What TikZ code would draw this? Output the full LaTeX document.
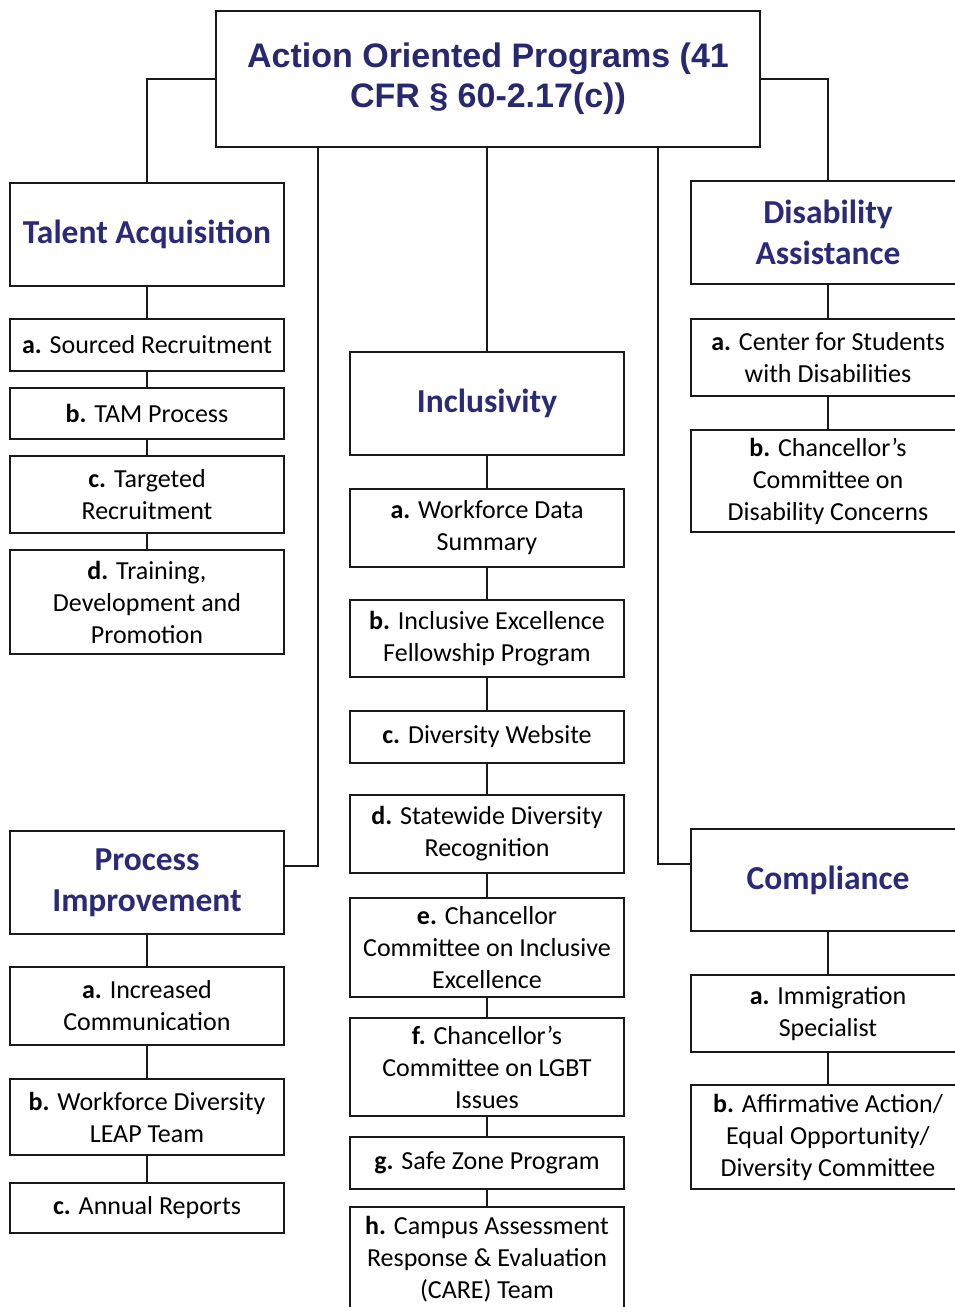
\documentclass[tikz,border=0pt]{standalone}
\usepackage{fontspec}
\setmainfont{Carlito}
\newfontfamily\titlefont{Liberation Sans}
\definecolor{hdr}{HTML}{2B2A78}
\definecolor{ttl}{HTML}{28286E}
\definecolor{ln}{HTML}{1A1A1A}
\tikzset{
  box/.style={draw=ln, line width=2pt, fill=white, minimum width=274pt, inner sep=0pt, align=center, text=black,
    font=\fontsize{26}{32}\selectfont},
  hbox/.style={box, text=hdr, font=\fontsize{33.5}{41}\selectfont\bfseries},
  conn/.style={draw=ln, line width=2pt},
}
\begin{document}
\begin{tikzpicture}[x=1pt,y=-1pt]
\clip (0,0) rectangle (955,1307);
\fill[white] (0,0) rectangle (955,1307);
% title
\node[box, minimum width=544pt, minimum height=136pt, text=ttl, font=\titlefont\fontsize{34}{40}\selectfont\bfseries] (top) at (488,79) {Action Oriented Programs (41\\CFR § 60-2.17(c))};
% talent acquisition
\node[hbox, minimum height=103pt] (ta) at (147,234.5) {Talent Acquisition};
\node[box, minimum height=52pt] (taa) at (147,345) {{\bfseries a.} Sourced Recruitment};
\node[box, minimum height=51pt] (tab) at (147,413.5) {{\bfseries b.} TAM Process};
\node[box, minimum height=77pt] (tac) at (147,494.5) {{\bfseries c.} Targeted\\Recruitment};
\node[box, minimum height=104pt] (tad) at (147,602) {{\bfseries d.} Training,\\Development and\\Promotion};
% process improvement
\node[hbox, minimum height=103pt] (pi) at (147,882.5) {Process\\Improvement};
\node[box, minimum height=78pt] (pia) at (147,1006) {{\bfseries a.} Increased\\Communication};
\node[box, minimum height=76pt] (pib) at (147,1117) {{\bfseries b.} Workforce Diversity\\LEAP Team};
\node[box, minimum height=50pt] (pic) at (147,1208) {{\bfseries c.} Annual Reports};
% inclusivity
\node[hbox, minimum height=103pt] (in) at (487,403.5) {Inclusivity};
\node[box, minimum height=78pt] (ina) at (487,528) {{\bfseries a.} Workforce Data\\Summary};
\node[box, minimum height=77pt] (inb) at (487,638.5) {{\bfseries b.} Inclusive Excellence\\Fellowship Program};
\node[box, minimum height=52pt] (inc) at (487,737) {{\bfseries c.} Diversity Website};
\node[box, minimum height=78pt] (ind) at (487,834) {{\bfseries d.} Statewide Diversity\\Recognition};
\node[box, minimum height=99pt] (ine) at (487,947.5) {{\bfseries e.} Chancellor\\Committee on Inclusive\\Excellence};
\node[box, minimum height=98pt] (inf) at (487,1067) {{\bfseries f.} Chancellor’s\\Committee on LGBT\\Issues};
\node[box, minimum height=52pt] (ing) at (487,1163) {{\bfseries g.} Safe Zone Program};
\node[box, minimum height=105pt] (inh) at (487,1259.5) {{\bfseries h.} Campus Assessment\\Response \& Evaluation\\(CARE) Team};
% disability
\node[hbox, minimum height=103pt] (da) at (828,232.5) {Disability\\Assistance};
\node[box, minimum height=77pt] (daa) at (828,357.5) {{\bfseries a.} Center for Students\\with Disabilities};
\node[box, minimum height=102pt] (dab) at (828,481) {{\bfseries b.} Chancellor’s\\Committee on\\Disability Concerns};
% compliance
\node[hbox, minimum height=102pt] (co) at (828,880) {Compliance};
\node[box, minimum height=77pt] (coa) at (828,1013.5) {{\bfseries a.} Immigration\\Specialist};
\node[box, minimum height=104pt] (cob) at (828,1137) {{\bfseries b.} Affirmative Action/\\Equal Opportunity/\\Diversity Committee};
% connectors
\coordinate (tl) at ([xshift=-170pt]top.south);
\coordinate (tr) at ([xshift=170pt]top.south);
\coordinate (pij) at ([yshift=17pt]pi.east);
\coordinate (coj) at ([yshift=16pt]co.west);
\draw[conn] (top.west) -| (ta.north);
\draw[conn] (top.east) -| (da.north);
\draw[conn] (top.south -| in.north) -- (in.north);
\draw[conn] (tl) |- (pij);
\draw[conn] (tr) |- (coj);
\draw[conn] (ta.south) -- (taa.north);
\draw[conn] (taa.south) -- (tab.north);
\draw[conn] (tab.south) -- (tac.north);
\draw[conn] (tac.south) -- (tad.north);
\draw[conn] (pi.south) -- (pia.north);
\draw[conn] (pia.south) -- (pib.north);
\draw[conn] (pib.south) -- (pic.north);
\draw[conn] (in.south) -- (ina.north);
\draw[conn] (ina.south) -- (inb.north);
\draw[conn] (inb.south) -- (inc.north);
\draw[conn] (inc.south) -- (ind.north);
\draw[conn] (ind.south) -- (ine.north);
\draw[conn] (ine.south) -- (inf.north);
\draw[conn] (inf.south) -- (ing.north);
\draw[conn] (ing.south) -- (inh.north);
\draw[conn] (da.south) -- (daa.north);
\draw[conn] (daa.south) -- (dab.north);
\draw[conn] (co.south) -- (coa.north);
\draw[conn] (coa.south) -- (cob.north);
\end{tikzpicture}
\end{document}
